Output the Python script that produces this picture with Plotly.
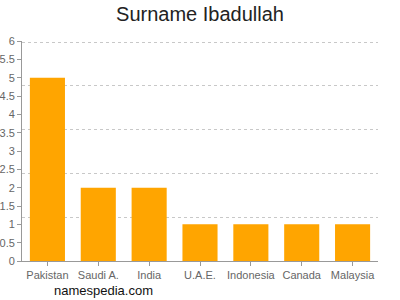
import plotly.graph_objects as go

categories = ["Pakistan", "Saudi A.", "India", "U.A.E.", "Indonesia", "Canada", "Malaysia"]
values = [5, 2, 2, 1, 1, 1, 1]
grid_levels = [1.2, 2.4, 3.6, 4.8, 6.0]
title_text = "Surname Ibadullah"
watermark = "namespedia.com"

fig = go.Figure()
fig.add_trace(go.Bar(x=categories, y=values, marker_color="#FFA500", marker_line_width=0,
                     hoverinfo="skip"))
fig.add_trace(go.Scatter(x=[categories[0]], y=[0], yaxis="y2", mode="markers",
                         marker=dict(opacity=0), showlegend=False, hoverinfo="skip"))

fig.update_layout(
    width=400, height=300,
    margin=dict(l=22, r=22, t=41, b=39, autoexpand=False),
    paper_bgcolor="white", plot_bgcolor="white",
    showlegend=False,
    bargap=0.31,
    font=dict(family="Liberation Sans, Arial, sans-serif"),
    title=dict(text=title_text, x=0.5, xanchor="center", y=1 - 14 / 300, yanchor="middle",
               font=dict(size=20, color="#222")),
    xaxis=dict(showline=True, linecolor="#999", linewidth=1, ticks="outside",
               ticklen=4, tickcolor="#999", tickfont=dict(size=11, color="#666"),
               showgrid=False, automargin=False),
    yaxis=dict(range=[0, 6], dtick=0.5, showline=True, linecolor="#999", linewidth=1,
               ticks="outside", ticklen=4, tickcolor="#999",
               tickfont=dict(size=11, color="#666"), showgrid=False, zeroline=False,
               automargin=False),
    yaxis2=dict(range=[0, 6.03], tickmode="array", tickvals=grid_levels, overlaying="y",
                side="left", showticklabels=False, ticks="", showgrid=True,
                gridcolor="#c8c8c8", griddash="3px,3px", gridwidth=1, zeroline=False,
                showline=False, automargin=False),
    annotations=[dict(text=watermark, xref="paper", yref="paper", x=(52 - 22) / 356,
                      y=(261 - 290) / 220, xanchor="left", yanchor="middle",
                      showarrow=False, font=dict(size=13, color="#111"))],
)

fig.write_html("out.html")
